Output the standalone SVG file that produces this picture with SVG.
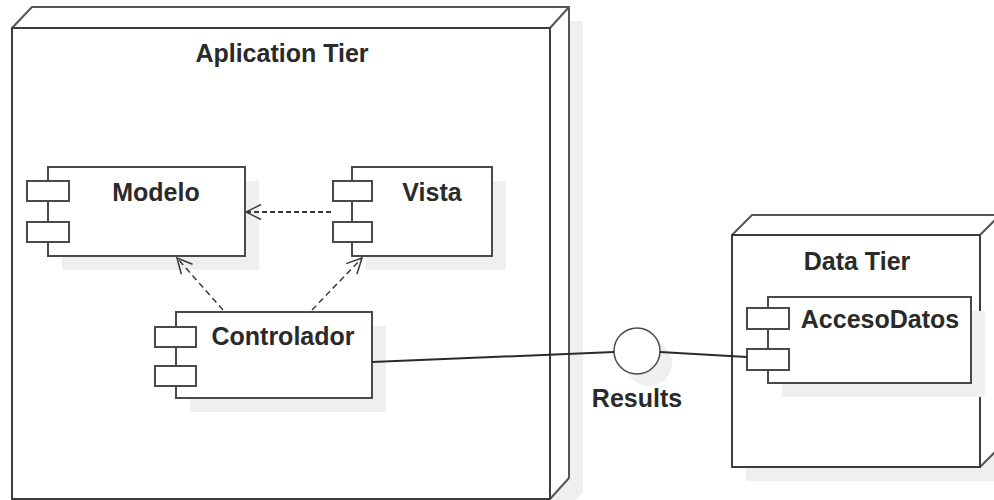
<svg xmlns="http://www.w3.org/2000/svg" width="994" height="500" viewBox="0 0 994 500">
  <defs>
    <style>
      .shadow { fill: #efefef; stroke: none; }
      .node { fill: #ffffff; stroke: #3c3c3c; stroke-width: 2; stroke-linejoin: round; }
      .back { fill: #ffffff; stroke: #555555; stroke-width: 2; stroke-linejoin: round; }
      .comp { fill: #ffffff; stroke: #4a4a4a; stroke-width: 2; }
      .lbl { font-family: "Liberation Sans", Arial, sans-serif; font-weight: bold; font-size: 25px; fill: #2a2a2a; text-anchor: middle; }
      .dep { fill: none; stroke: #3a3a3a; stroke-width: 1.5; stroke-dasharray: 6 4; marker-end: url(#open); }
      .dep.thick { stroke-width: 2.2; stroke-dasharray: 5 3; }
      .assoc { fill: none; stroke: #2a2a2a; stroke-width: 2; }
    </style>
    <marker id="open" viewBox="0 0 18 18" refX="17" refY="9" markerWidth="18" markerHeight="18" markerUnits="userSpaceOnUse" orient="auto">
      <path d="M2,1.5 L17,9 L2,16.5" fill="none" stroke="#3a3a3a" stroke-width="1.5"/>
    </marker>
  </defs>

  <g id="aplication-tier">
    <polygon class="shadow" points="26,42 46,21 583,21 583,492 564,513 26,513"/>
    <path class="back" d="M12,28 L32,7 L569,7 L569,478 L550,499 L12,499 Z"/>
    <path class="back" d="M550,28 L569,7" fill="none"/>
    <rect class="node" x="12" y="28" width="538" height="471"/>
    <text class="lbl" x="282" y="62">Aplication Tier</text>
  </g>

  <g id="data-tier">
    <polygon class="shadow" points="746,249 766,229 1014,229 1014,461 994,481 746,481"/>
    <path class="back" d="M732,235 L752,215 L1000,215 L1000,447 L980,467 L732,467 Z"/>
    <path class="back" d="M980,235 L1000,215" fill="none"/>
    <rect class="node" x="732" y="235" width="248" height="232"/>
    <text class="lbl" x="857" y="270">Data Tier</text>
  </g>

  <g id="modelo">
    <rect class="shadow" x="62" y="181" width="197" height="89"/>
    <rect class="comp" x="48" y="167" width="197" height="89"/>
    <rect class="comp" x="27" y="181" width="42" height="20"/>
    <rect class="comp" x="27" y="222" width="42" height="20"/>
    <text class="lbl" x="156" y="201">Modelo</text>
  </g>

  <g id="vista">
    <rect class="shadow" x="366" y="181" width="140" height="89"/>
    <rect class="comp" x="352" y="167" width="140" height="89"/>
    <rect class="comp" x="333" y="181" width="39" height="20"/>
    <rect class="comp" x="333" y="222" width="39" height="20"/>
    <text class="lbl" x="432" y="201">Vista</text>
  </g>

  <g id="controlador">
    <rect class="shadow" x="190" y="326" width="196" height="86"/>
    <rect class="comp" x="176" y="312" width="196" height="86"/>
    <rect class="comp" x="155" y="327" width="41" height="20"/>
    <rect class="comp" x="155" y="366" width="41" height="20"/>
    <text class="lbl" x="283" y="345">Controlador</text>
  </g>

  <g id="accesodatos">
    <rect class="shadow" x="782" y="311" width="203" height="86"/>
    <rect class="comp" x="768" y="297" width="203" height="86"/>
    <rect class="comp" x="747" y="308" width="42" height="21"/>
    <rect class="comp" x="747" y="349" width="42" height="21"/>
    <text class="lbl" x="880" y="328">AccesoDatos</text>
  </g>

  <g id="results">
    <circle class="shadow" cx="649" cy="363" r="23"/>
    <circle cx="637" cy="351" r="23" fill="#ffffff" stroke="#4a4a4a" stroke-width="1.5"/>
    <text class="lbl" x="637" y="407">Results</text>
  </g>

  <g id="connectors">
    <path class="dep thick" d="M331,212 L246,212"/>
    <path class="dep" d="M223,310 L177,258"/>
    <path class="dep" d="M312,310 L362,258"/>
    <path class="assoc" d="M372,362 L614,352"/>
    <path class="assoc" d="M660,352 L747,357"/>
  </g>
</svg>
